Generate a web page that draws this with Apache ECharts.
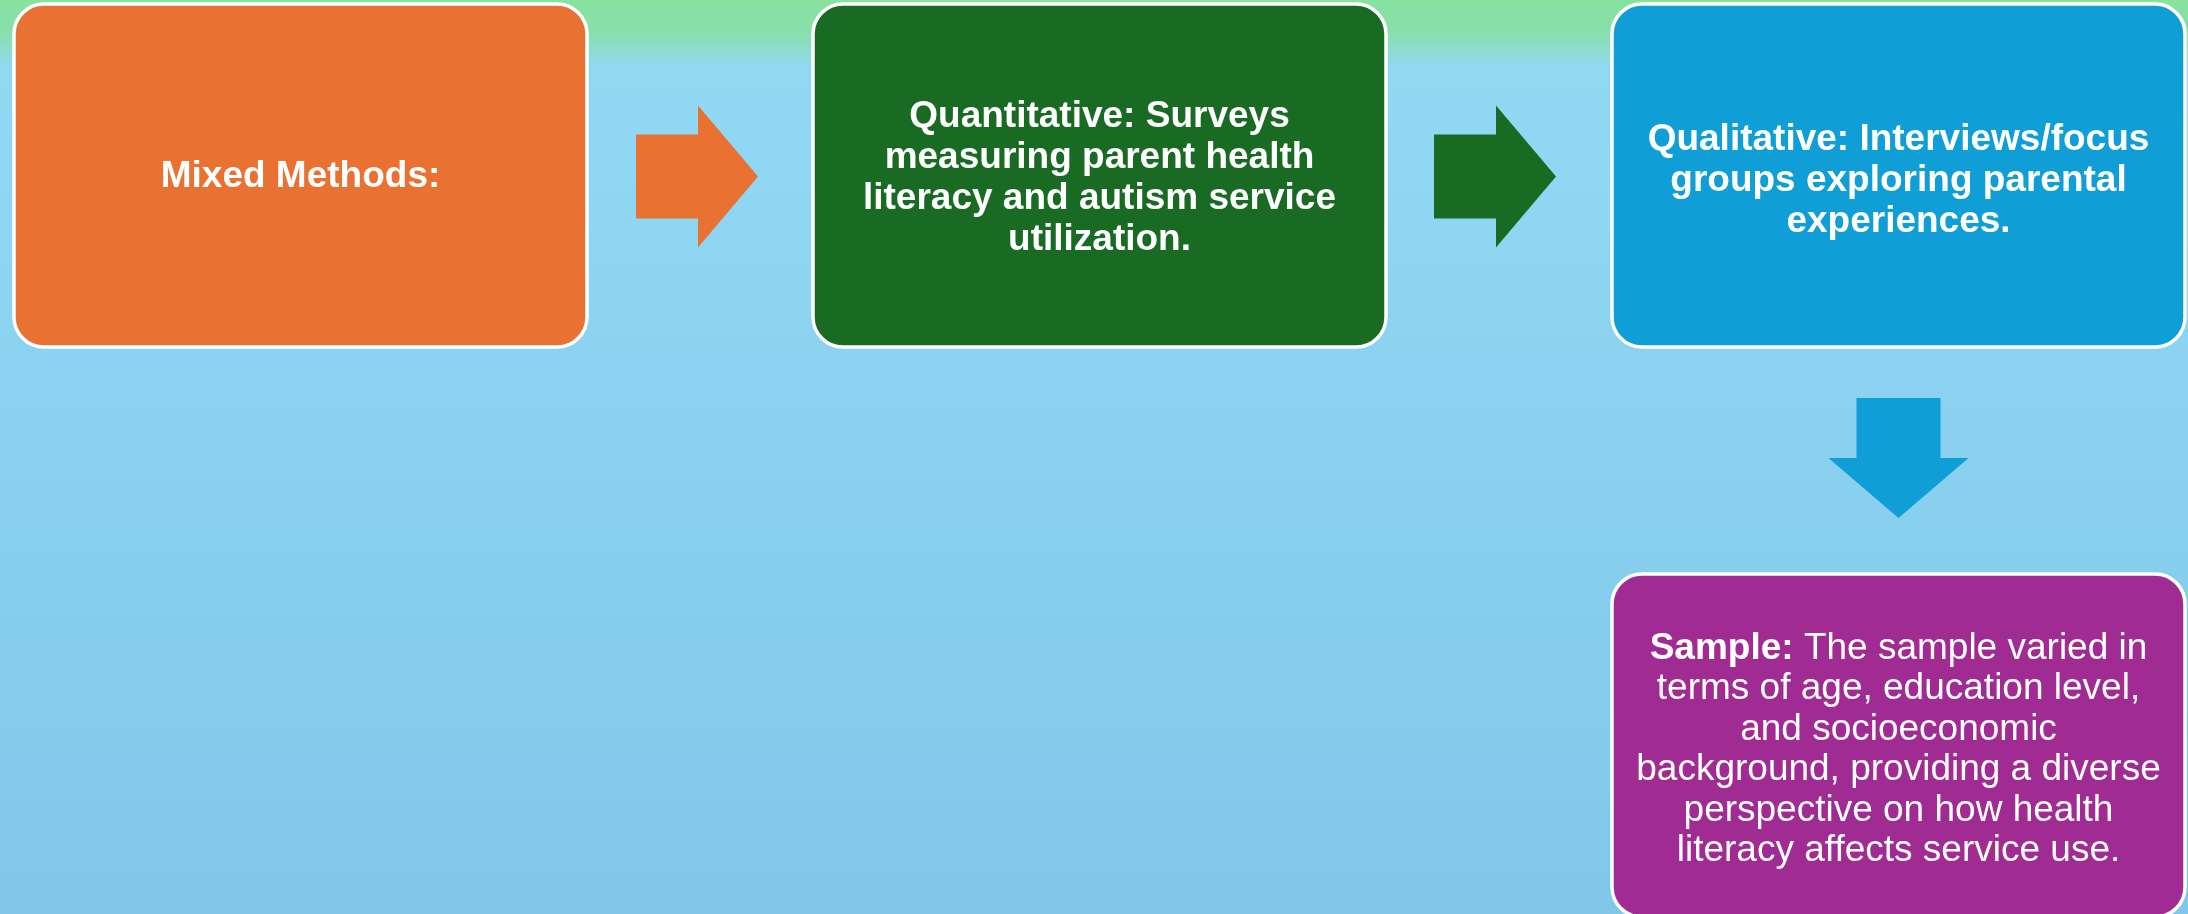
<!DOCTYPE html>
<html>
<head>
<meta charset="utf-8">
<script src="https://cdn.jsdelivr.net/npm/echarts@6/dist/echarts.min.js"></script>
<style>
  html, body { margin: 0; padding: 0; }
  #chart { width: 2188px; height: 914px; }
</style>
</head>
<body>
<div id="chart"></div>
<script>
// step labels (text of each box)
const stepTexts = [
  'Mixed Methods:',
  'Quantitative: Surveys\nmeasuring parent health\nliteracy and autism service\nutilization.',
  'Qualitative: Interviews/focus\ngroups exploring parental\nexperiences.'
];
const sampleLead = 'Sample:';
const sampleText = ' The sample varied in\nterms of age, education level,\nand socioeconomic\nbackground, providing a diverse\nperspective on how health\nliteracy affects service use.';
const stepColors = ['#E97132', '#196B24', '#0F9ED5', '#A02B93'];

const chart = echarts.init(document.getElementById('chart'));

const fontFam = "'Liberation Sans', Arial, sans-serif";

// layout
const boxW = 573, boxH = 343, topY = 4;
const boxX = [14, 813, 1612];
const textShift = [1, 3, 5];
const elements = [];

function box(x, y, w, h, color) {
  return {
    type: 'rect',
    shape: { x: x, y: y, width: w, height: h, r: 30 },
    style: { fill: color, stroke: '#ffffff', lineWidth: 3.5 }
  };
}

function rightArrow(x0, xh, tip, cy, color) {
  return {
    type: 'polygon',
    shape: { points: [[x0, cy - 42], [xh, cy - 42], [xh, cy - 71], [tip, cy], [xh, cy + 71], [xh, cy + 42], [x0, cy + 42]] },
    style: { fill: color }
  };
}

stepTexts.forEach((t, i) => {
  elements.push(box(boxX[i], topY, boxW, boxH, stepColors[i]));
  elements.push({
    type: 'text',
    x: boxX[i] + boxW / 2,
    y: topY + boxH / 2 + textShift[i],
    style: {
      text: t,
      fill: '#ffffff',
      font: 'bold 37px ' + fontFam,
      textAlign: 'center',
      textVerticalAlign: 'middle',
      lineHeight: 41
    }
  });
});

const cy = topY + boxH / 2 + 1;
elements.push(rightArrow(636, 698, 758, cy, stepColors[0]));
elements.push(rightArrow(1434, 1496, 1556, cy, stepColors[1]));

// down arrow
const cx = boxX[2] + boxW / 2;
elements.push({
  type: 'polygon',
  shape: { points: [[cx - 42, 398], [cx + 42, 398], [cx + 42, 458], [cx + 70, 458], [cx, 518], [cx - 70, 458], [cx - 42, 458]] },
  style: { fill: stepColors[2] }
});

// sample box
elements.push(box(boxX[2], 574, boxW, 343, stepColors[3]));
const sampleLines = sampleText.split('\n');
elements.push({
  type: 'text',
  x: cx,
  y: 750,
  style: {
    text: '{b|' + sampleLead + '}{r|' + sampleLines[0] + '}\n' +
      sampleLines.slice(1).map(s => '{r|' + s + '}').join('\n'),
    fill: '#ffffff',
    textAlign: 'center',
    textVerticalAlign: 'middle',
    rich: {
      b: { fontFamily: fontFam, fontWeight: 'bold', fontSize: 37, fill: '#ffffff', lineHeight: 40.5 },
      r: { fontFamily: fontFam, fontSize: 37, fill: '#ffffff', lineHeight: 40.5 }
    }
  }
});

chart.setOption({
  backgroundColor: new echarts.graphic.LinearGradient(0, 0, 0, 1, [
    { offset: 0, color: '#87e29f' },
    { offset: 0.035, color: '#89dfaa' },
    { offset: 0.075, color: '#91d9f3' },
    { offset: 1, color: '#80c7ea' }
  ]),
  graphic: { elements: elements }
});
</script>
</body>
</html>
